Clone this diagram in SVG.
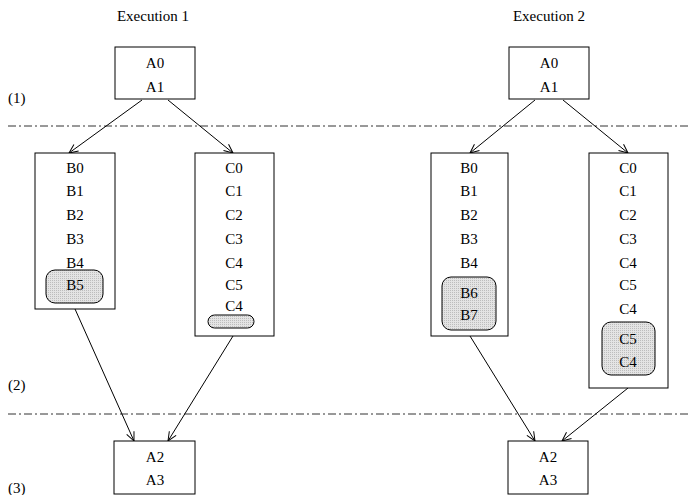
<svg xmlns="http://www.w3.org/2000/svg" width="691" height="495" viewBox="0 0 691 495">
<defs>
<marker id="arr" markerWidth="12" markerHeight="10" refX="10" refY="5" orient="auto" markerUnits="userSpaceOnUse">
<path d="M1,1 L10,5 L1,9" fill="none" stroke="#000" stroke-width="1"/>
</marker>
<pattern id="dots" width="2" height="2" patternUnits="userSpaceOnUse">
<rect width="2" height="2" fill="#e4e4e4"/>
<rect width="1" height="1" fill="#bdbdbd"/>
</pattern>
</defs>
<style>
text{font-family:"Liberation Serif","Times New Roman",serif;font-size:15px;fill:#000;text-anchor:middle;dominant-baseline:central}
.lbl{text-anchor:start}
.box{fill:#fff;stroke:#000;stroke-width:1}
.hl{fill:url(#dots);stroke:#000;stroke-width:1}
.sep{stroke:#333;stroke-width:1;stroke-dasharray:8,3,2,3;fill:none}
.edge{stroke:#000;stroke-width:1;fill:none;marker-end:url(#arr)}
</style>
<rect width="691" height="495" fill="#fff"/>
<text x="153" y="16">Execution 1</text>
<text x="549" y="16">Execution 2</text>
<text class="lbl" x="8" y="98">(1)</text>
<text class="lbl" x="8" y="385">(2)</text>
<text class="lbl" x="8" y="488">(3)</text>
<line class="sep" x1="8" y1="126" x2="691" y2="126"/>
<line class="sep" x1="8" y1="414" x2="691" y2="414"/>
<g id="connectors">
<line class="edge" x1="142" y1="100" x2="69" y2="153"/>
<line class="edge" x1="168" y1="100" x2="233" y2="153"/>
<line class="edge" x1="75" y1="309" x2="134" y2="441"/>
<line class="edge" x1="233" y1="336" x2="168" y2="441"/>
<line class="edge" x1="535" y1="100" x2="470" y2="153"/>
<line class="edge" x1="563" y1="100" x2="628" y2="153"/>
<line class="edge" x1="470" y1="336" x2="535" y2="441"/>
<line class="edge" x1="628" y1="388" x2="562" y2="441"/>
</g>
<g id="e1-a01">
<rect class="box" x="115" y="47" width="80" height="52"/>
<text x="155" y="63">A0</text>
<text x="155" y="87">A1</text>
</g>
<g id="e1-b">
<rect class="box" x="35" y="153" width="80" height="156"/>
<text x="75" y="168">B0</text>
<text x="75" y="191">B1</text>
<text x="75" y="215">B2</text>
<text x="75" y="239">B3</text>
<text x="75" y="263">B4</text>
<rect class="hl" x="46" y="270" width="57" height="33" rx="9"/>
<text x="75" y="285">B5</text>
</g>
<g id="e1-c">
<rect class="box" x="195" y="153" width="79" height="183"/>
<text x="234" y="168">C0</text>
<text x="234" y="191">C1</text>
<text x="234" y="215">C2</text>
<text x="234" y="239">C3</text>
<text x="234" y="263">C4</text>
<text x="234" y="285">C5</text>
<text x="234" y="306">C4</text>
<rect class="hl" x="208" y="315" width="46" height="13" rx="6.5"/>
</g>
<g id="e1-a23">
<rect class="box" x="114" y="441" width="81" height="53"/>
<text x="155" y="457">A2</text>
<text x="155" y="480">A3</text>
</g>
<g id="e2-a01">
<rect class="box" x="509" y="47" width="80" height="52"/>
<text x="549" y="63">A0</text>
<text x="549" y="87">A1</text>
</g>
<g id="e2-b">
<rect class="box" x="431" y="153" width="77" height="183"/>
<text x="469" y="168">B0</text>
<text x="469" y="191">B1</text>
<text x="469" y="215">B2</text>
<text x="469" y="239">B3</text>
<text x="469" y="263">B4</text>
<rect class="hl" x="442" y="277" width="54" height="53" rx="9"/>
<text x="469" y="293">B6</text>
<text x="469" y="315">B7</text>
</g>
<g id="e2-c">
<rect class="box" x="589" y="153" width="79" height="235"/>
<text x="628" y="168">C0</text>
<text x="628" y="191">C1</text>
<text x="628" y="215">C2</text>
<text x="628" y="239">C3</text>
<text x="628" y="263">C4</text>
<text x="628" y="285">C5</text>
<text x="628" y="309">C4</text>
<rect class="hl" x="602" y="322" width="53" height="53" rx="9"/>
<text x="628" y="339">C5</text>
<text x="628" y="362">C4</text>
</g>
<g id="e2-a23">
<rect class="box" x="508" y="441" width="80" height="53"/>
<text x="548" y="457">A2</text>
<text x="548" y="480">A3</text>
</g>
</svg>
